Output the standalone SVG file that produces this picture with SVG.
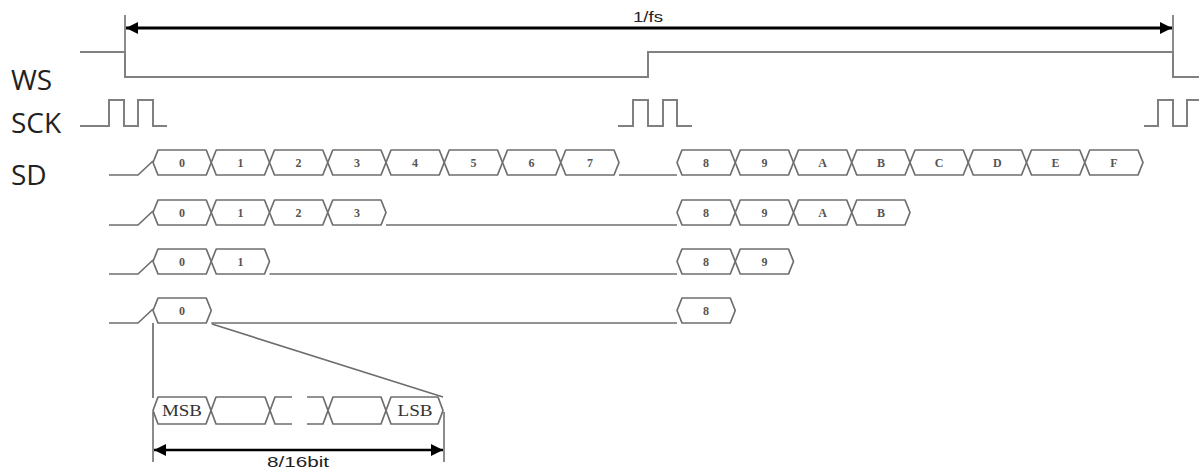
<svg xmlns="http://www.w3.org/2000/svg" width="1199" height="469" viewBox="0 0 1199 469">
<defs>
<marker id="ah" viewBox="0 0 12 12" refX="12" refY="6" markerWidth="12" markerHeight="12" markerUnits="userSpaceOnUse" orient="auto-start-reverse">
<path d="M0,0 L12,6 L0,12 Z" fill="#000"/>
</marker>
</defs>
<style>
.sig{fill:none;stroke:#808080;stroke-width:2}
.cell{fill:#fff;stroke:#6e6e6e;stroke-width:1.7;stroke-linejoin:round}
.ln{fill:none;stroke:#6e6e6e;stroke-width:1.7}
.dig{font-family:"Liberation Serif",serif;font-size:12px;font-weight:bold;fill:#555;text-anchor:middle}
.bit{font-family:"Liberation Serif",serif;font-size:16px;fill:#333;text-anchor:middle}
.lbl{font-family:"Open Sans","DejaVu Sans",sans-serif;font-size:28px;fill:#222}
.dim{font-family:"Liberation Sans",Arial,sans-serif;font-size:15px;fill:#222;text-anchor:middle}
.arr{fill:none;stroke:#000;stroke-width:3;marker-start:url(#ah);marker-end:url(#ah)}
.tick{fill:none;stroke:#666;stroke-width:1.5}
</style>
<rect width="1199" height="469" fill="#fff"/>

<g id="labels">
<text class="lbl" x="11" y="90">WS</text>
<text class="lbl" x="11" y="133">SCK</text>
<text class="lbl" x="11" y="185">SD</text>
</g>

<g id="period">
<line class="tick" x1="125" y1="15" x2="125" y2="52"/>
<line class="tick" x1="1173" y1="15" x2="1173" y2="52"/>
<line class="arr" x1="126" y1="28" x2="1172" y2="28"/>
<text class="dim" x="648" y="22" textLength="30" lengthAdjust="spacingAndGlyphs">1/fs</text>
</g>

<g id="ws">
<path class="sig" d="M80,52 H125 V77 H648 V52 H1173 V77 H1199"/>
</g>

<g id="sck">
<path class="sig" d="M80,126 H109 V100 H124 V126 H138 V100 H153 V126 H167"/>
<path class="sig" d="M618,126 H633 V100 H648 V126 H663 V100 H677 V126 H692"/>
<path class="sig" d="M1144,126 H1158 V100 H1173 V126 H1187 V100 H1199"/>
</g>

<g id="sd1">
<path class="ln" d="M109,175 H138 L153,161"/>
<path class="cell" d="M153,162.5 L158,150 H206.25 L211.25,162.5 L206.25,175 H158 Z"/>
<path class="cell" d="M211.25,162.5 L216.25,150 H264.5 L269.5,162.5 L264.5,175 H216.25 Z"/>
<path class="cell" d="M269.5,162.5 L274.5,150 H322.75 L327.75,162.5 L322.75,175 H274.5 Z"/>
<path class="cell" d="M327.75,162.5 L332.75,150 H381 L386,162.5 L381,175 H332.75 Z"/>
<path class="cell" d="M386,162.5 L391,150 H439.25 L444.25,162.5 L439.25,175 H391 Z"/>
<path class="cell" d="M444.25,162.5 L449.25,150 H497.5 L502.5,162.5 L497.5,175 H449.25 Z"/>
<path class="cell" d="M502.5,162.5 L507.5,150 H555.75 L560.75,162.5 L555.75,175 H507.5 Z"/>
<path class="cell" d="M560.75,162.5 L565.75,150 H614 L619,162.5 L614,175 H565.75 Z"/>
<path class="ln" d="M619,175 H677"/>
<path class="cell" d="M677,162.5 L682,150 H730.25 L735.25,162.5 L730.25,175 H682 Z"/>
<path class="cell" d="M735.25,162.5 L740.25,150 H788.5 L793.5,162.5 L788.5,175 H740.25 Z"/>
<path class="cell" d="M793.5,162.5 L798.5,150 H846.75 L851.75,162.5 L846.75,175 H798.5 Z"/>
<path class="cell" d="M851.75,162.5 L856.75,150 H905 L910,162.5 L905,175 H856.75 Z"/>
<path class="cell" d="M910,162.5 L915,150 H963.25 L968.25,162.5 L963.25,175 H915 Z"/>
<path class="cell" d="M968.25,162.5 L973.25,150 H1021.5 L1026.5,162.5 L1021.5,175 H973.25 Z"/>
<path class="cell" d="M1026.5,162.5 L1031.5,150 H1079.75 L1084.75,162.5 L1079.75,175 H1031.5 Z"/>
<path class="cell" d="M1084.75,162.5 L1089.75,150 H1138 L1143,162.5 L1138,175 H1089.75 Z"/>
<g class="dig">
<text x="182" y="167">0</text><text x="240.4" y="167">1</text><text x="298.6" y="167">2</text><text x="356.9" y="167">3</text>
<text x="415.1" y="167">4</text><text x="473.4" y="167">5</text><text x="531.6" y="167">6</text><text x="589.9" y="167">7</text>
<text x="706.1" y="167">8</text><text x="764.4" y="167">9</text><text x="822.6" y="167">A</text><text x="880.9" y="167">B</text>
<text x="939.1" y="167">C</text><text x="997.4" y="167">D</text><text x="1055.6" y="167">E</text><text x="1113.9" y="167">F</text>
</g>
</g>

<g id="sd2">
<path class="ln" d="M109,225 H138 L153,211"/>
<path class="cell" d="M153,212.5 L158,200 H206.25 L211.25,212.5 L206.25,225 H158 Z"/>
<path class="cell" d="M211.25,212.5 L216.25,200 H264.5 L269.5,212.5 L264.5,225 H216.25 Z"/>
<path class="cell" d="M269.5,212.5 L274.5,200 H322.75 L327.75,212.5 L322.75,225 H274.5 Z"/>
<path class="cell" d="M327.75,212.5 L332.75,200 H381 L386,212.5 L381,225 H332.75 Z"/>
<path class="ln" d="M386,225 H677"/>
<path class="cell" d="M677,212.5 L682,200 H730.25 L735.25,212.5 L730.25,225 H682 Z"/>
<path class="cell" d="M735.25,212.5 L740.25,200 H788.5 L793.5,212.5 L788.5,225 H740.25 Z"/>
<path class="cell" d="M793.5,212.5 L798.5,200 H846.75 L851.75,212.5 L846.75,225 H798.5 Z"/>
<path class="cell" d="M851.75,212.5 L856.75,200 H905 L910,212.5 L905,225 H856.75 Z"/>
<g class="dig">
<text x="182" y="217">0</text><text x="240.4" y="217">1</text><text x="298.6" y="217">2</text><text x="356.9" y="217">3</text>
<text x="706.1" y="217">8</text><text x="764.4" y="217">9</text><text x="822.6" y="217">A</text><text x="880.9" y="217">B</text>
</g>
</g>

<g id="sd3">
<path class="ln" d="M109,274 H138 L153,260"/>
<path class="cell" d="M153,261.5 L158,249 H206.25 L211.25,261.5 L206.25,274 H158 Z"/>
<path class="cell" d="M211.25,261.5 L216.25,249 H264.5 L269.5,261.5 L264.5,274 H216.25 Z"/>
<path class="ln" d="M269.5,274 H677"/>
<path class="cell" d="M677,261.5 L682,249 H730.25 L735.25,261.5 L730.25,274 H682 Z"/>
<path class="cell" d="M735.25,261.5 L740.25,249 H788.5 L793.5,261.5 L788.5,274 H740.25 Z"/>
<g class="dig">
<text x="182" y="266">0</text><text x="240.4" y="266">1</text>
<text x="706.1" y="266">8</text><text x="764.4" y="266">9</text>
</g>
</g>

<g id="sd4">
<path class="ln" d="M109,323 H138 L153,309"/>
<path class="cell" d="M153,310.5 L158,298 H206.25 L211.25,310.5 L206.25,323 H158 Z"/>
<path class="ln" d="M211.25,323 H677"/>
<path class="cell" d="M677,310.5 L682,298 H730.25 L735.25,310.5 L730.25,323 H682 Z"/>
<g class="dig">
<text x="182" y="315">0</text>
<text x="706.1" y="315">8</text>
</g>
</g>

<g id="zoom-lines">
<line class="ln" x1="153" y1="323" x2="153" y2="398"/>
<line class="ln" x1="212" y1="324" x2="443" y2="397"/>
</g>

<g id="word">
<path class="cell" d="M153,410.5 L158,397 H206 L211,410.5 L206,424 H158 Z"/>
<path class="cell" d="M211,410.5 L216,397 H265 L270,410.5 L265,424 H216 Z"/>
<path class="ln" d="M292,397 H275 L270,410.5 L275,424 H292"/>
<path class="ln" d="M307,397 H323 L328,410.5 L323,424 H307"/>
<path class="cell" d="M328,410.5 L333,397 H381 L386,410.5 L381,424 H333 Z"/>
<path class="cell" d="M386,410.5 L391,397 H438 L443,410.5 L438,424 H391 Z"/>
<text class="bit" x="182" y="416" textLength="40" lengthAdjust="spacingAndGlyphs">MSB</text>
<text class="bit" x="415" y="416" textLength="35" lengthAdjust="spacingAndGlyphs">LSB</text>
</g>

<g id="width">
<line class="tick" x1="153" y1="412" x2="153" y2="462"/>
<line class="tick" x1="444" y1="412" x2="444" y2="462"/>
<line class="arr" x1="154" y1="450" x2="443" y2="450" style="stroke-width:2.5"/>
<text class="dim" x="298" y="467" textLength="62" lengthAdjust="spacingAndGlyphs">8/16bit</text>
</g>
</svg>
